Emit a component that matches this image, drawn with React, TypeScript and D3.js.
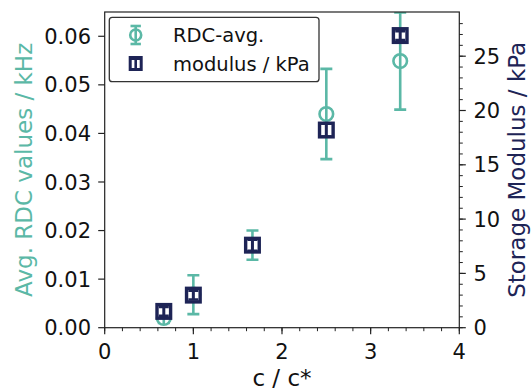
import React from "react";
import * as d3 from "d3";

// Concentration ratio c / c*
const concentration = [2 / 3, 1, 5 / 3, 2.5, 10 / 3];
// Average RDC values (kHz) and their errors
const rdcAvg = [0.002, 0.0068, 0.017, 0.044, 0.0549];
const rdcErr = [0.001, 0.004, 0.003, 0.0093, 0.01];
// Storage modulus (kPa) and errors
const modulus = [1.5, 3.0, 7.6, 18.2, 26.9];
const modulusErr = [0.4, 0.4, 0.5, 0.6, 0.4];

const xTicks = [0, 1, 2, 3, 4];
const yLeftTicks = [0, 0.01, 0.02, 0.03, 0.04, 0.05, 0.06];
const yRightTicks = [0, 5, 10, 15, 20, 25];

const legendLabels = ["RDC-avg.", "modulus / kPa"];

const W = 531;
const H = 392;
const margin = { left: 104.7, right: 531 - 459.3, top: 12, bottom: 392 - 327.7 };
const TEAL = "#5bb8a6";
const NAVY = "#1e2456";
const FONT = "DejaVu Sans, sans-serif";
const TICK_FS = 21;
const LABEL_FS = 23;

export default function App() {
  const x = d3.scaleLinear().domain([0, 4]).range([margin.left, W - margin.right]);
  const yL = d3.scaleLinear().domain([0, 0.065]).range([H - margin.bottom, margin.top]);
  const yR = d3.scaleLinear().domain([0, 29.07]).range([H - margin.bottom, margin.top]);

  const x0 = x.range()[0];
  const x1 = x.range()[1];
  const yb = yL.range()[0];
  const yt = yL.range()[1];

  const xMinor = d3.range(0, 4.0001, 0.2);
  const rMinor = d3.range(0, 29, 1);

  const rdcCap = 6;
  const modCap = 5;

  return (
    <svg
      width={W}
      height={H}
      style={{ position: "absolute", left: 0, top: 0, background: "#fff" }}
      fontFamily={FONT}
    >
      <defs>
        <clipPath id="plotArea">
          <rect x={x0} y={yt} width={x1 - x0} height={yb - yt} />
        </clipPath>
      </defs>

      {/* RDC series: error bars and open circles */}
      <g clipPath="url(#plotArea)">
        {concentration.map((c, i) => {
          const cx = x(c);
          const top = yL(rdcAvg[i] + rdcErr[i]);
          const bot = yL(rdcAvg[i] - rdcErr[i]);
          return (
            <g key={"rdc" + i} stroke={TEAL} strokeWidth={2.6} fill="none">
              <line x1={cx} x2={cx} y1={top} y2={bot} />
              <line x1={cx - rdcCap} x2={cx + rdcCap} y1={top} y2={top} />
              <line x1={cx - rdcCap} x2={cx + rdcCap} y1={bot} y2={bot} />
              <circle cx={cx} cy={yL(rdcAvg[i])} r={6.8} fill="#fff" />
              <line x1={cx} x2={cx} y1={yL(rdcAvg[i]) - 6.8} y2={yL(rdcAvg[i]) + 6.8} />
            </g>
          );
        })}

        {/* Storage modulus: open squares with error bars */}
        {concentration.map((c, i) => {
          const cx = x(c);
          const cy = yR(modulus[i]);
          const top = yR(modulus[i] + modulusErr[i]);
          const bot = yR(modulus[i] - modulusErr[i]);
          return (
            <g key={"mod" + i} stroke={NAVY} strokeWidth={3} fill="none">
              <rect x={cx - 6.8} y={cy - 6.8} width={13.6} height={13.6} fill="#fff" strokeWidth={3.4} />
              <line x1={cx} x2={cx} y1={top} y2={bot} />
              <line x1={cx - modCap} x2={cx + modCap} y1={top} y2={top} strokeWidth={2.4} />
              <line x1={cx - modCap} x2={cx + modCap} y1={bot} y2={bot} strokeWidth={2.4} />
            </g>
          );
        })}
      </g>

      {/* Frame */}
      <rect x={x0} y={yt} width={x1 - x0} height={yb - yt} fill="none" stroke="#222" strokeWidth={1.2} />

      {/* Bottom axis */}
      {xMinor.map((v, i) => (
        <line key={"xm" + i} x1={x(v)} x2={x(v)} y1={yb} y2={yb + 3.5} stroke="#222" strokeWidth={1} />
      ))}
      {xTicks.map((v) => (
        <g key={"xt" + v}>
          <line x1={x(v)} x2={x(v)} y1={yb} y2={yb + 6.5} stroke="#222" strokeWidth={1.2} />
          <text x={x(v)} y={358.5} textAnchor="middle" fontSize={TICK_FS} fill="#111">
            {v}
          </text>
        </g>
      ))}
      <text x={(x0 + x1) / 2} y={386} textAnchor="middle" fontSize={LABEL_FS} fill="#111">
        c / c*
      </text>

      {/* Left axis */}
      {yLeftTicks.map((v) => (
        <g key={"yl" + v}>
          <line x1={x0} x2={x0 - 6.5} y1={yL(v)} y2={yL(v)} stroke="#222" strokeWidth={1.2} />
          <text x={91} y={yL(v) + 7.6} textAnchor="end" fontSize={TICK_FS} fill="#111">
            {d3.format(".2f")(v)}
          </text>
        </g>
      ))}
      <text
        transform={`translate(31.5,${(yt + yb) / 2}) rotate(-90)`}
        textAnchor="middle"
        fontSize={LABEL_FS}
        fill={TEAL}
      >
        Avg. RDC values / kHz
      </text>

      {/* Right axis */}
      {rMinor.map((v) => (
        <line key={"rm" + v} x1={x1} x2={x1 + 3.5} y1={yR(v)} y2={yR(v)} stroke="#222" strokeWidth={1} />
      ))}
      {yRightTicks.map((v) => (
        <g key={"yr" + v}>
          <line x1={x1} x2={x1 + 6.5} y1={yR(v)} y2={yR(v)} stroke="#222" strokeWidth={1.2} />
          <text x={473.5} y={yR(v) + 7.6} textAnchor="start" fontSize={TICK_FS} fill="#111">
            {v}
          </text>
        </g>
      ))}
      <text
        transform={`translate(524.5,${(yt + yb) / 2}) rotate(-90)`}
        textAnchor="middle"
        fontSize={LABEL_FS}
        fill={NAVY}
      >
        Storage Modulus / kPa
      </text>

      {/* Legend */}
      <g>
        <rect x={109.3} y={17.3} width={209.7} height={64.4} rx={3} fill="#fff" stroke="#333" strokeWidth={1.3} />
        <g stroke={TEAL} strokeWidth={2.6} fill="none">
          <line x1={135.7} x2={135.7} y1={26} y2={44} />
          <line x1={130.5} x2={140.9} y1={26} y2={26} />
          <line x1={130.5} x2={140.9} y1={44} y2={44} />
          <circle cx={135.7} cy={35} r={5.5} fill="#fff" />
          <line x1={135.7} x2={135.7} y1={29.5} y2={40.5} />
        </g>
        <g stroke={NAVY} fill="none">
          <rect x={130.2} y={57.5} width={11} height={12} fill="#fff" strokeWidth={3} />
          <line x1={135.7} x2={135.7} y1={57} y2={70} strokeWidth={2.6} />
          <line x1={131} x2={140.4} y1={59} y2={59} strokeWidth={2} />
        </g>
        <text x={173} y={42} fontSize={19.5} fill="#111">
          {legendLabels[0]}
        </text>
        <text x={173} y={70.5} fontSize={19.5} fill="#111">
          {legendLabels[1]}
        </text>
      </g>
    </svg>
  );
}
